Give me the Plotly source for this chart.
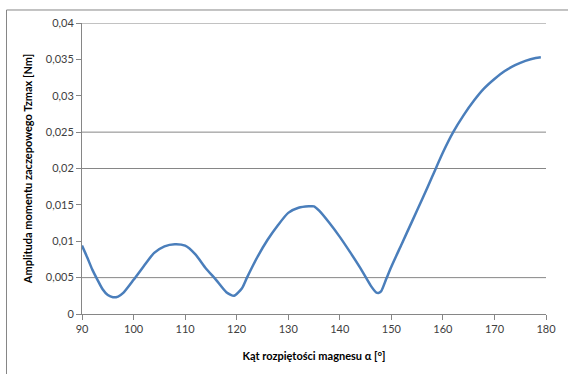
import plotly.graph_objects as go

angle = [90, 91, 92, 93, 94, 95, 96, 97, 98, 100, 102, 104, 106, 108, 110, 112, 114, 116, 118, 119.5,
         121, 122, 124, 126, 128, 130, 132, 134, 135, 136, 138, 140, 142, 144, 146, 147, 147.5, 148, 149,
         150, 152, 154, 156, 158, 160, 162, 164, 166, 168, 170, 172, 174, 176, 178, 179]
tzmax = [0.0094, 0.0078, 0.0061, 0.0047, 0.0034, 0.0026, 0.0023, 0.0024, 0.0029, 0.0047, 0.0066, 0.0084,
         0.0093, 0.0096, 0.0094, 0.0082, 0.0063, 0.0047, 0.0030, 0.0025, 0.0035, 0.0050, 0.0078, 0.0102,
         0.0122, 0.0139, 0.0146, 0.0148, 0.0148, 0.0142, 0.0125, 0.0106, 0.0085, 0.0063, 0.0039, 0.0030,
         0.0029, 0.0031, 0.0048, 0.0065, 0.0096, 0.0127, 0.0158, 0.0190, 0.0222, 0.0250, 0.0273, 0.0293,
         0.0310, 0.0323, 0.0334, 0.0342, 0.0348, 0.0352, 0.0353]

x_ticks = [90, 100, 110, 120, 130, 140, 150, 160, 170, 180]
y_ticks = [0, 0.005, 0.01, 0.015, 0.02, 0.025, 0.03, 0.035, 0.04]
y_ticktext = ["0", "0,005", "0,01", "0,015", "0,02", "0,025", "0,03", "0,035", "0,04"]
grid_levels = [0.005, 0.02, 0.025, 0.04]

x_title = "Kąt rozpiętości magnesu α [°]"
y_title = "Amplituda momentu zaczepowego Tzmax [Nm]"

fig = go.Figure()
fig.add_trace(go.Scatter(x=angle, y=tzmax, mode="lines",
                         line=dict(color="#4a7ebb", width=2.5, shape="spline", smoothing=0.6),
                         hoverinfo="skip"))

shapes = []
for g in grid_levels:
    shapes.append(dict(type="line", xref="paper", yref="y", x0=0, x1=1, y0=g, y1=g,
                       line=dict(color="#868686", width=1), layer="below"))
# outer chart border
shapes.append(dict(type="rect", xref="paper", yref="paper", x0=-0.1627, x1=1.06, y0=-0.25, y1=1.0447,
                   line=dict(color="#868686", width=1), layer="below"))

fig.update_layout(
    width=568, height=374,
    margin=dict(l=82, r=19, t=23, b=60),
    paper_bgcolor="white", plot_bgcolor="white",
    showlegend=False,
    font=dict(family="Lato, Open Sans, sans-serif", size=11, color="#404040"),
    shapes=shapes,
    xaxis=dict(range=[90, 180], tickvals=x_ticks, showgrid=False, zeroline=False,
               showline=True, linecolor="#868686", linewidth=1,
               ticks="outside", ticklen=5, tickcolor="#868686",
               title=dict(text="<b>" + x_title + "</b>", font=dict(size=11, color="#000000"), standoff=18)),
    yaxis=dict(range=[0, 0.04], tickvals=y_ticks, ticktext=y_ticktext, showgrid=False, zeroline=False,
               showline=True, linecolor="#868686", linewidth=1,
               ticks="outside", ticklen=5, tickcolor="#868686",
               title=dict(text="<b>" + y_title + "</b>", font=dict(size=11, color="#000000"), standoff=10)),
)

fig.write_html("out.html")
